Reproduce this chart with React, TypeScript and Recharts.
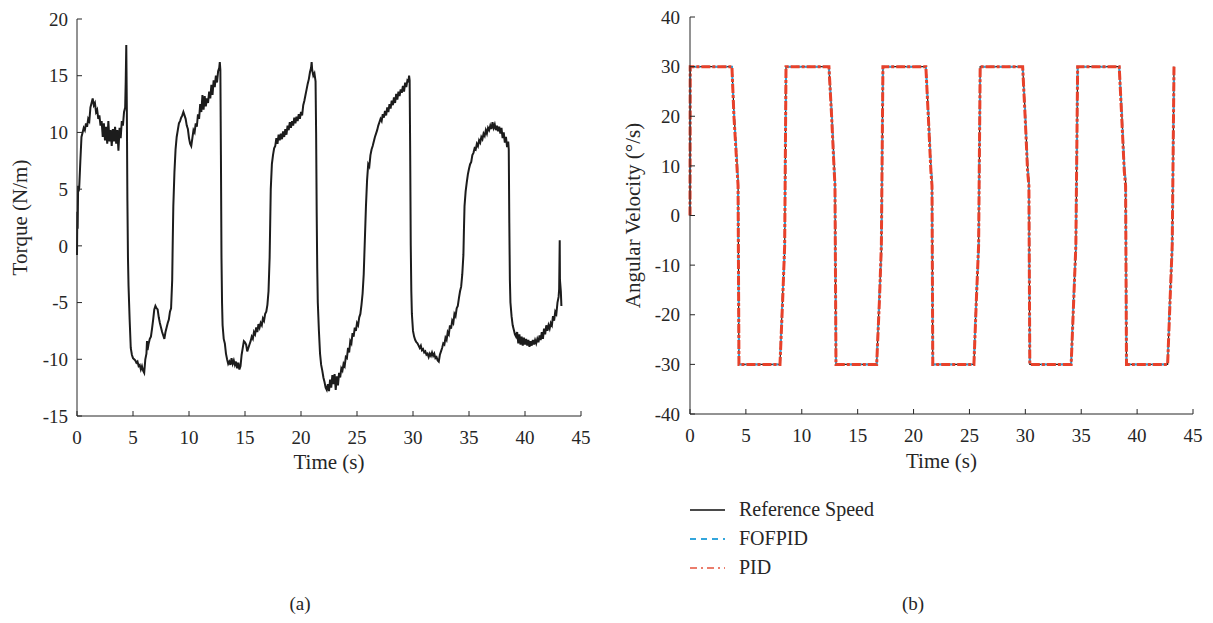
import { LineChart, Line, XAxis, YAxis } from "recharts";

const FONT = "'Liberation Serif', 'Times New Roman', serif";
const INK = "#262626";

const timeTicks = [0, 5, 10, 15, 20, 25, 30, 35, 40, 45];
const torqueTicks = [-15, -10, -5, 0, 5, 10, 15, 20];
const speedTicks = [-40, -30, -20, -10, 0, 10, 20, 30, 40];

const torqueSamples: [number, number][] = [
  [0, -0.8], [0.03, 3], [0.06, 1.5], [0.1, 5.3], [0.15, 4.8], [0.2, 5.2], [0.3, 7.5], [0.4, 9.6],
  [0.5, 10.0], [0.6, 10.4], [0.7, 10.2], [0.8, 10.8], [0.9, 10.5], [1.0, 11.2], [1.1, 11.0], [1.2, 12.2],
  [1.3, 12.6], [1.4, 13.0], [1.5, 12.4], [1.6, 12.6], [1.7, 11.8], [1.8, 12.0], [1.9, 11.2], [2.0, 11.5],
  [2.1, 10.6], [2.2, 11.0], [2.3, 9.6], [2.4, 10.8], [2.5, 9.3], [2.6, 10.5], [2.7, 9.0], [2.8, 11.0],
  [2.9, 9.2], [3.0, 10.2], [3.1, 8.8], [3.2, 10.3], [3.3, 9.2], [3.4, 10.5], [3.5, 9.0], [3.6, 10.2],
  [3.7, 8.4], [3.8, 10.4], [3.9, 9.5], [4.0, 11.0], [4.1, 10.6], [4.2, 11.8], [4.3, 12.2], [4.35, 14.5],
  [4.4, 17.7], [4.45, 12.0], [4.5, 4.0], [4.55, -1.0], [4.6, -3.5], [4.7, -6.5], [4.8, -9.0], [4.9, -9.6],
  [5.0, -9.9], [5.1, -10.0], [5.2, -10.1], [5.3, -10.3], [5.4, -10.2], [5.5, -10.6], [5.6, -10.5], [5.7, -10.9],
  [5.8, -10.6], [5.9, -11.0], [6.0, -11.2], [6.1, -10.0], [6.2, -9.5], [6.25, -8.4], [6.3, -9.2], [6.4, -8.6],
  [6.5, -8.2], [6.6, -8.0], [6.7, -7.3], [6.8, -6.5], [6.9, -5.6], [7.0, -5.3], [7.1, -5.5], [7.2, -5.6],
  [7.3, -6.3], [7.4, -6.8], [7.5, -7.2], [7.6, -7.6], [7.7, -7.9], [7.8, -8.2], [7.9, -7.6], [8.0, -7.2],
  [8.1, -6.8], [8.2, -6.5], [8.3, -5.8], [8.4, -5.5], [8.5, -3.0], [8.55, 0.5], [8.6, 3.5], [8.7, 6.5],
  [8.8, 8.5], [8.9, 9.6], [9.0, 10.2], [9.1, 10.8], [9.2, 11.0], [9.3, 11.3], [9.4, 11.5], [9.5, 11.8],
  [9.6, 11.5], [9.7, 11.2], [9.8, 10.6], [9.9, 10.3], [10.0, 9.5], [10.1, 9.0], [10.2, 8.8], [10.3, 9.5],
  [10.4, 10.2], [10.5, 10.0], [10.6, 10.8], [10.7, 10.5], [10.8, 11.6], [10.9, 11.2], [11.0, 12.5], [11.1, 11.8],
  [11.2, 13.3], [11.3, 12.0], [11.4, 13.2], [11.5, 12.3], [11.6, 13.0], [11.7, 12.6], [11.8, 13.6], [11.9, 13.0],
  [12.0, 14.2], [12.1, 13.3], [12.2, 14.6], [12.3, 14.0], [12.4, 15.0], [12.5, 14.4], [12.6, 15.4], [12.7, 15.7],
  [12.75, 16.2], [12.8, 15.5], [12.85, 8.0], [12.9, -1.0], [12.95, -5.0], [13.0, -7.0], [13.1, -8.2], [13.2, -8.6],
  [13.3, -9.5], [13.4, -10.0], [13.5, -10.4], [13.6, -10.2], [13.7, -10.5], [13.8, -9.9], [13.9, -10.4], [14.0, -10.1],
  [14.1, -10.5], [14.2, -10.2], [14.3, -10.8], [14.4, -10.3], [14.5, -10.9], [14.6, -10.6], [14.7, -9.6], [14.8, -9.0],
  [14.9, -8.4], [15.0, -8.5], [15.1, -8.7], [15.2, -9.3], [15.3, -9.0], [15.4, -8.7], [15.5, -8.4], [15.6, -8.0],
  [15.7, -8.2], [15.8, -7.6], [15.9, -7.8], [16.0, -7.2], [16.1, -7.6], [16.2, -6.9], [16.3, -7.2], [16.4, -6.8],
  [16.5, -7.0], [16.6, -6.4], [16.7, -6.6], [16.8, -6.0], [16.9, -5.8], [17.0, -5.2], [17.1, -4.0], [17.2, -1.0],
  [17.25, 2.0], [17.3, 5.0], [17.4, 7.2], [17.5, 8.0], [17.6, 8.6], [17.7, 8.8], [17.8, 9.5], [17.9, 9.0],
  [18.0, 9.8], [18.1, 9.3], [18.2, 9.9], [18.3, 9.4], [18.4, 10.1], [18.5, 9.6], [18.6, 10.3], [18.7, 9.8],
  [18.8, 10.6], [18.9, 10.2], [19.0, 10.9], [19.1, 10.4], [19.2, 11.0], [19.3, 10.6], [19.4, 11.3], [19.5, 10.8],
  [19.6, 11.4], [19.7, 11.0], [19.8, 11.6], [19.9, 11.2], [20.0, 11.8], [20.1, 11.5], [20.2, 12.4], [20.3, 12.8],
  [20.4, 13.3], [20.5, 13.8], [20.6, 14.3], [20.7, 14.7], [20.8, 15.3], [20.9, 15.7], [20.95, 16.2], [21.0, 15.5],
  [21.1, 15.0], [21.2, 15.2], [21.3, 14.5], [21.35, 10.0], [21.4, 3.0], [21.45, -2.0], [21.5, -5.0], [21.6, -7.5],
  [21.7, -9.5], [21.8, -10.5], [21.9, -11.0], [22.0, -11.6], [22.1, -12.0], [22.2, -12.5], [22.3, -12.7], [22.4, -12.2],
  [22.5, -12.8], [22.6, -11.8], [22.7, -12.5], [22.8, -11.4], [22.9, -12.2], [23.0, -11.3], [23.1, -12.7], [23.2, -11.5],
  [23.3, -12.3], [23.4, -11.2], [23.5, -11.6], [23.6, -10.8], [23.7, -11.0], [23.8, -10.4], [23.9, -10.6], [24.0, -9.8],
  [24.1, -9.9], [24.2, -9.0], [24.3, -9.4], [24.4, -8.4], [24.5, -8.6], [24.6, -7.7], [24.7, -8.0], [24.8, -7.2],
  [24.9, -7.5], [25.0, -6.8], [25.1, -7.0], [25.2, -6.3], [25.3, -6.0], [25.4, -5.2], [25.5, -4.2], [25.6, -2.5],
  [25.7, 0.5], [25.8, 3.5], [25.9, 5.8], [26.0, 7.2], [26.1, 7.0], [26.2, 8.0], [26.3, 8.5], [26.4, 8.8],
  [26.5, 9.2], [26.6, 9.6], [26.7, 9.9], [26.8, 10.2], [26.9, 10.6], [27.0, 10.9], [27.1, 11.2], [27.2, 11.0],
  [27.3, 11.6], [27.4, 11.3], [27.5, 11.9], [27.6, 11.5], [27.7, 12.2], [27.8, 11.8], [27.9, 12.5], [28.0, 12.1],
  [28.1, 12.8], [28.2, 12.4], [28.3, 13.1], [28.4, 12.6], [28.5, 13.4], [28.6, 12.9], [28.7, 13.6], [28.8, 13.2],
  [28.9, 13.8], [29.0, 13.5], [29.1, 14.1], [29.2, 13.6], [29.3, 14.4], [29.4, 14.0], [29.5, 14.6], [29.6, 14.5],
  [29.65, 15.0], [29.7, 14.6], [29.75, 8.0], [29.8, 0.0], [29.85, -4.0], [29.9, -6.0], [30.0, -7.5], [30.1, -8.0],
  [30.2, -8.3], [30.3, -8.5], [30.4, -8.6], [30.5, -8.8], [30.6, -9.0], [30.7, -8.8], [30.8, -9.2], [30.9, -9.1],
  [31.0, -9.4], [31.1, -9.3], [31.2, -9.6], [31.3, -9.5], [31.4, -9.8], [31.5, -9.5], [31.6, -9.7], [31.7, -9.4],
  [31.8, -9.7], [31.9, -9.5], [32.0, -9.9], [32.1, -9.8], [32.2, -10.1], [32.3, -10.2], [32.4, -9.6], [32.5, -9.3],
  [32.6, -9.0], [32.7, -8.6], [32.8, -8.7], [32.9, -8.1], [33.0, -8.3], [33.1, -7.6], [33.2, -7.8], [33.3, -7.0],
  [33.4, -7.3], [33.5, -6.6], [33.6, -6.8], [33.7, -6.0], [33.8, -6.2], [33.9, -5.5], [34.0, -5.3], [34.1, -4.6],
  [34.2, -4.0], [34.3, -3.6], [34.4, -2.5], [34.5, -0.8], [34.55, 1.5], [34.6, 3.5], [34.7, 4.8], [34.8, 5.6],
  [34.9, 6.3], [35.0, 6.8], [35.1, 7.2], [35.2, 7.4], [35.3, 8.0], [35.4, 8.2], [35.5, 8.6], [35.6, 8.5],
  [35.7, 9.0], [35.8, 8.8], [35.9, 9.3], [36.0, 9.1], [36.1, 9.6], [36.2, 9.4], [36.3, 9.9], [36.4, 9.7],
  [36.5, 10.2], [36.6, 9.9], [36.7, 10.4], [36.8, 10.2], [36.9, 10.6], [37.0, 10.3], [37.1, 10.9], [37.2, 10.4],
  [37.3, 10.7], [37.4, 10.2], [37.5, 10.6], [37.6, 10.1], [37.7, 10.5], [37.8, 9.9], [37.9, 10.4], [38.0, 9.5],
  [38.1, 10.0], [38.2, 9.1], [38.3, 9.6], [38.4, 8.7], [38.5, 9.2], [38.55, 8.5], [38.6, 2.0], [38.65, -3.0],
  [38.7, -5.0], [38.8, -6.2], [38.9, -7.0], [39.0, -7.4], [39.1, -7.8], [39.2, -8.0], [39.3, -7.6], [39.4, -8.6],
  [39.5, -7.8], [39.6, -8.7], [39.7, -8.0], [39.8, -8.8], [39.9, -8.1], [40.0, -8.7], [40.1, -8.2], [40.2, -8.8],
  [40.3, -8.3], [40.4, -8.9], [40.5, -8.4], [40.6, -8.8], [40.7, -8.3], [40.8, -8.7], [40.9, -8.3], [41.0, -8.6],
  [41.1, -8.2], [41.2, -8.5], [41.3, -7.9], [41.4, -8.3], [41.5, -7.6], [41.6, -8.2], [41.7, -7.3], [41.8, -7.8],
  [41.9, -7.0], [42.0, -7.5], [42.1, -7.0], [42.2, -7.3], [42.3, -6.8], [42.4, -7.0], [42.5, -6.2], [42.6, -6.6],
  [42.7, -5.8], [42.8, -6.0], [42.9, -5.0], [43.0, -4.5], [43.05, -3.8], [43.1, 0.5], [43.12, -3.0], [43.2, -4.0],
  [43.25, -5.3],
];

// (b) angular velocity, deg/s, at the corner times of the square wave
const speedTime = [
  0, 0.02, 3.75, 3.93, 4.17, 4.3, 4.38, 8.05, 8.29, 8.47, 8.59,
  12.43, 12.67, 12.9, 12.97, 13.06, 16.7, 16.95, 17.12, 17.26,
  21.1, 21.32, 21.55, 21.65, 21.72, 25.4, 25.62, 25.82, 25.96,
  29.76, 29.98, 30.2, 30.32, 30.4, 34.1, 34.33, 34.52, 34.68,
  38.4, 38.62, 38.85, 38.97, 39.05, 42.73, 42.95, 43.14, 43.3,
];
const referenceSpeed = [
  0, 30, 30, 21, 12, 7, -30, -30, -16, -7, 30,
  30, 21, 10, 7, -30, -30, -16, -7, 30,
  30, 21, 10, 7, -30, -30, -16, -7, 30,
  30, 21, 10, 7, -30, -30, -16, -7, 30,
  30, 21, 10, 7, -30, -30, -16, -7, 30,
];
const fofpidSpeed = [
  0, 30, 30, 21, 12, 7, -30, -30, -16, -7, 30,
  30, 21, 10, 7, -30, -30, -16, -7, 30,
  30, 21, 10, 7, -30, -30, -16, -7, 30,
  30, 21, 10, 7, -30, -30, -16, -7, 30,
  30, 21, 10, 7, -30, -30, -16, -7, 30,
];
const pidSpeed = [
  0, 30, 30, 20, 11, 6, -30, -30, -17, -6, 30,
  30, 20, 9, 6, -30, -30, -17, -6, 30,
  30, 20, 9, 6, -30, -30, -17, -6, 30,
  30, 20, 9, 6, -30, -30, -17, -6, 30,
  30, 20, 9, 6, -30, -30, -17, -6, 30,
];

const torqueData = torqueSamples.map(([t, v]) => ({ t, torque: v }));
const speedData = speedTime.map((t, i) => ({
  t,
  ref: referenceSpeed[i],
  fofpid: fofpidSpeed[i],
  pid: pidSpeed[i],
}));

const tickStyle = { fill: INK, fontSize: 19, fontFamily: FONT };
const labelStyle = { fill: INK, fontSize: 21, fontFamily: FONT, textAnchor: "middle" as const };
const blank = () => "";

const legendItems = [
  { name: "Reference Speed", color: "#4a4a4a", dash: undefined, width: 2 },
  { name: "FOFPID", color: "#33a6dc", dash: "6 5", width: 2 },
  { name: "PID", color: "#e5533d", dash: "7 4 2 4", width: 1.5 },
];

export default function App() {
  const common = {
    stroke: INK,
  };
  return (
    <div
      style={{
        position: "absolute",
        left: 0,
        top: 0,
        width: 1213,
        height: 623,
        background: "#fff",
        fontFamily: FONT,
        color: INK,
      }}
    >
      <div style={{ position: "absolute", left: 0, top: 0 }}>
        <LineChart width={600} height={480} data={torqueData} margin={{ top: 19, right: 19, left: 0, bottom: 0 }}>
          <XAxis
            dataKey="t"
            type="number"
            domain={[0, 45]}
            ticks={timeTicks}
            height={64}
            tickSize={-5}
            tickMargin={20}
            tick={tickStyle}
            axisLine={common}
            tickLine={common}
            label={{ value: "Time (s)", position: "insideBottom", offset: 11, style: labelStyle }}
          />
          <XAxis
            xAxisId="top"
            orientation="top"
            type="number"
            domain={[0, 45]}
            ticks={timeTicks}
            height={0}
            tickSize={-5}
            tickFormatter={blank}
            axisLine={common}
            tickLine={common}
          />
          <YAxis
            type="number"
            domain={[-15, 20]}
            ticks={torqueTicks}
            width={77}
            tickSize={-5}
            tickMargin={14}
            tick={tickStyle}
            axisLine={common}
            tickLine={common}
            label={{ value: "Torque (N/m)", angle: -90, position: "insideLeft", offset: 20, style: labelStyle }}
          />
          <YAxis
            yAxisId="right"
            orientation="right"
            type="number"
            domain={[-15, 20]}
            ticks={torqueTicks}
            width={0}
            tickSize={-5}
            tickFormatter={blank}
            axisLine={common}
            tickLine={common}
          />
          <Line
            type="linear"
            dataKey="torque"
            stroke="#1c1c1c"
            strokeWidth={2}
            dot={false}
            isAnimationActive={false}
          />
        </LineChart>
      </div>

      <div style={{ position: "absolute", left: 610, top: 0 }}>
        <LineChart width={600} height={480} data={speedData} margin={{ top: 17, right: 17, left: 0, bottom: 0 }}>
          <XAxis
            dataKey="t"
            type="number"
            domain={[0, 45]}
            ticks={timeTicks}
            height={66}
            tickSize={-5}
            tickMargin={20}
            tick={tickStyle}
            axisLine={common}
            tickLine={common}
            label={{ value: "Time (s)", position: "insideBottom", offset: 12, style: labelStyle }}
          />
          <XAxis
            xAxisId="top"
            orientation="top"
            type="number"
            domain={[0, 45]}
            ticks={timeTicks}
            height={0}
            tickSize={-5}
            tickFormatter={blank}
            axisLine={common}
            tickLine={common}
          />
          <YAxis
            type="number"
            domain={[-40, 40]}
            ticks={speedTicks}
            width={80}
            tickSize={-5}
            tickMargin={15}
            tick={tickStyle}
            axisLine={common}
            tickLine={common}
            label={{ value: "Angular Velocity (°/s)", angle: -90, position: "insideLeft", offset: 23, style: labelStyle }}
          />
          <YAxis
            yAxisId="right"
            orientation="right"
            type="number"
            domain={[-40, 40]}
            ticks={speedTicks}
            width={0}
            tickSize={-5}
            tickFormatter={blank}
            axisLine={{ stroke: "#555", strokeWidth: 1.5 }}
            tickLine={common}
          />
          <Line dataKey="ref" type="linear" stroke="#1c1c1c" strokeWidth={1.2} dot={false} isAnimationActive={false} />
          <Line
            dataKey="fofpid"
            type="linear"
            stroke="#2f9fd8"
            strokeWidth={2}
            strokeDasharray="6 3"
            dot={false}
            isAnimationActive={false}
          />
          <Line
            dataKey="pid"
            type="linear"
            stroke="#e8412a"
            strokeWidth={3}
            strokeDasharray="9 2 3 2"
            dot={false}
            isAnimationActive={false}
          />
        </LineChart>
      </div>

      <div style={{ position: "absolute", left: 690, top: 495 }}>
        {legendItems.map((item) => (
          <div key={item.name} style={{ display: "flex", alignItems: "center", height: 29 }}>
            <svg width={35} height={10} style={{ marginRight: 14 }}>
              <line
                x1={0}
                x2={35}
                y1={5}
                y2={5}
                stroke={item.color}
                strokeWidth={item.width}
                strokeDasharray={item.dash}
              />
            </svg>
            <span style={{ fontSize: 20, lineHeight: "29px" }}>{item.name}</span>
          </div>
        ))}
      </div>

      <div style={{ position: "absolute", left: 260, width: 80, top: 593, textAlign: "center", fontSize: 19 }}>(a)</div>
      <div style={{ position: "absolute", left: 873, width: 80, top: 593, textAlign: "center", fontSize: 19 }}>(b)</div>
    </div>
  );
}
